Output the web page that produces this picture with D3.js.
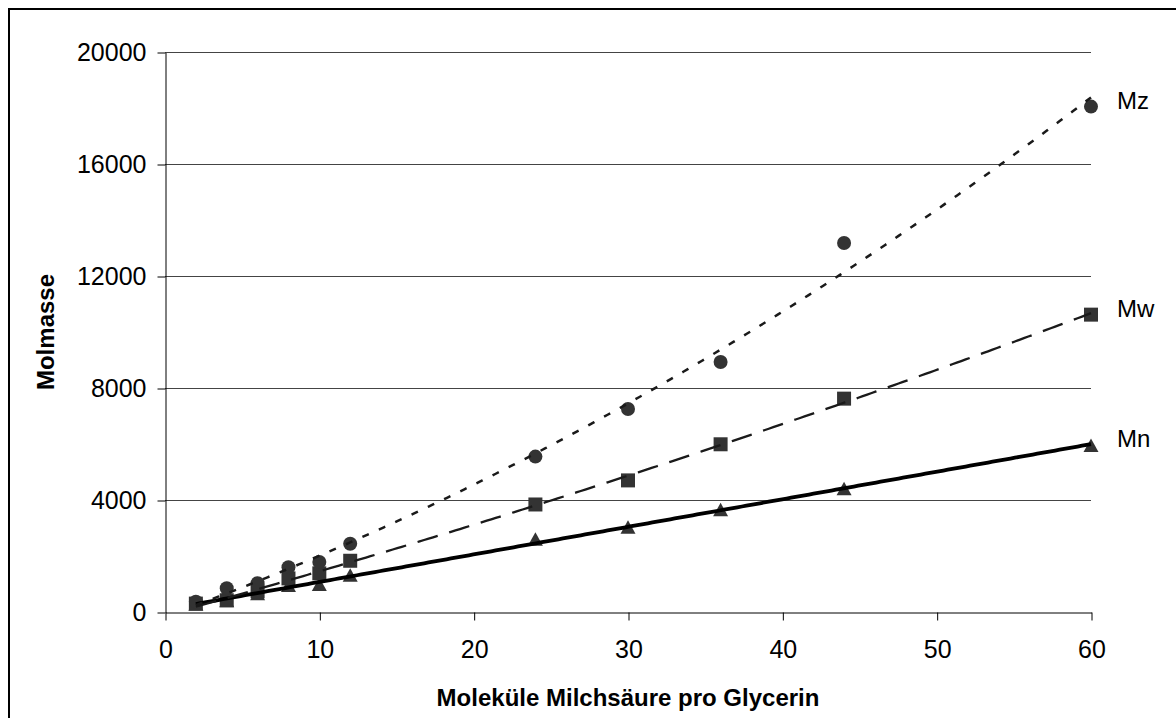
<!DOCTYPE html>
<html>
<head>
<meta charset="utf-8">
<script src="https://cdn.jsdelivr.net/npm/d3@7"></script>
<style>
  body { margin: 0; background: #fff; }
  svg { display: block; }
  text { font-family: "Liberation Sans", Arial, sans-serif; fill: #000; }
</style>
</head>
<body>
<svg id="chart" width="1176" height="718"></svg>
<script>
// Lactic acid molecules per glycerin
const lacticPerGlycerin = [2, 4, 6, 8, 10, 12, 24, 30, 36, 44, 60];
// Molar mass averages
const mnValues = [280, 400, 650, 950, 980, 1310, 2600, 3030, 3650, 4400, 5950];
const mwValues = [300, 420, 740, 1200, 1380, 1830, 3840, 4700, 5990, 7620, 10620];
const mzValues = [370, 850, 1030, 1600, 1790, 2440, 5550, 7250, 8930, 13180, 18050];
const seriesNames = ["Mn", "Mw", "Mz"];
const xTickValues = [0, 10, 20, 30, 40, 50, 60];
const yTickValues = [0, 4000, 8000, 12000, 16000, 20000];
const xTitle = "Moleküle Milchsäure pro Glycerin";
const yTitle = "Molmasse";

const svg = d3.select("#chart");
const plot = { left: 165, right: 1091, top: 52, bottom: 612 };

const x = d3.scaleLinear().domain([0, 60]).range([plot.left, plot.right]);
const y = d3.scaleLinear().domain([0, 20000]).range([plot.bottom, plot.top]);

// Outer frame
svg.append("rect")
  .attr("x", 9).attr("y", 9)
  .attr("width", 1190).attr("height", 730)
  .attr("fill", "none").attr("stroke", "#000").attr("stroke-width", 2);

// Horizontal gridlines
svg.append("g").selectAll("line")
  .data(yTickValues.filter(v => v > 0))
  .join("line")
  .attr("x1", plot.left).attr("x2", plot.right)
  .attr("y1", d => Math.round(y(d)) + 0.5).attr("y2", d => Math.round(y(d)) + 0.5)
  .attr("stroke", "#444").attr("stroke-width", 1);

// Axes
const yAxis = svg.append("g")
  .attr("transform", `translate(${plot.left + 0.5},0.5)`)
  .call(d3.axisLeft(y).tickValues(yTickValues).tickFormat(d3.format("d"))
    .tickSize(8).tickSizeOuter(0).tickPadding(11));
const xAxis = svg.append("g")
  .attr("transform", `translate(0.5,${plot.bottom + 0.5})`)
  .call(d3.axisBottom(x).tickValues(xTickValues).tickFormat(d3.format("d"))
    .tickSize(8).tickSizeOuter(0).tickPadding(20));
[yAxis, xAxis].forEach(g => {
  g.attr("font-family", null).attr("font-size", null);
  g.selectAll("path, line").attr("stroke", "#000").attr("stroke-width", 1);
  g.selectAll("text").style("font-size", "25px");
});

// Axis titles
svg.append("text")
  .attr("x", (plot.left + plot.right) / 2).attr("y", 706)
  .attr("text-anchor", "middle")
  .style("font-size", "24px").style("font-weight", "bold")
  .text(xTitle);
svg.append("text")
  .attr("transform", `translate(54,${(plot.top + plot.bottom) / 2}) rotate(-90)`)
  .attr("text-anchor", "middle")
  .style("font-size", "24px").style("font-weight", "bold")
  .text(yTitle);

// Least-squares polynomial fit (degree 1 or 2)
function polyFit(xs, ys, degree) {
  const n = degree + 1;
  const A = Array.from({ length: n }, () => new Array(n + 1).fill(0));
  xs.forEach((xv, k) => {
    for (let i = 0; i < n; i++) {
      for (let j = 0; j < n; j++) A[i][j] += Math.pow(xv, i + j);
      A[i][n] += ys[k] * Math.pow(xv, i);
    }
  });
  for (let c = 0; c < n; c++) {
    let p = c;
    for (let r = c + 1; r < n; r++) if (Math.abs(A[r][c]) > Math.abs(A[p][c])) p = r;
    [A[c], A[p]] = [A[p], A[c]];
    for (let r = 0; r < n; r++) {
      if (r === c) continue;
      const f = A[r][c] / A[c][c];
      for (let k = c; k <= n; k++) A[r][k] -= f * A[c][k];
    }
  }
  const coef = A.map((row, i) => row[n] / row[i]);
  return xv => coef.reduce((s, cf, i) => s + cf * Math.pow(xv, i), 0);
}

const series = [
  { name: seriesNames[0], values: mnValues, degree: 1, marker: "triangle",
    stroke: "#000", width: 3.8, dash: null },
  { name: seriesNames[1], values: mwValues, degree: 2, marker: "square",
    stroke: "#1a1a1a", width: 2.3, dash: "21,12" },
  { name: seriesNames[2], values: mzValues, degree: 2, marker: "circle",
    stroke: "#1a1a1a", width: 2.5, dash: "7,11" }
];

const markerPath = {
  circle: d3.symbol().type(d3.symbolCircle).size(Math.PI * 7 * 7)(),
  square: "M-7,-7H7V7H-7Z",
  triangle: "M0,-7L7.5,6.5L-7.5,6.5Z"
};

// Markers
series.forEach(s => {
  svg.append("g").selectAll("path")
    .data(lacticPerGlycerin.map((xv, i) => [xv, s.values[i]]))
    .join("path")
    .attr("transform", d => `translate(${x(d[0])},${y(d[1])})`)
    .attr("d", markerPath[s.marker])
    .attr("fill", "#333");
});

// Trend lines
const line = d3.line().x(d => x(d[0])).y(d => y(d[1]));
series.forEach(s => {
  const fit = polyFit(lacticPerGlycerin, s.values, s.degree);
  const x0 = d3.min(lacticPerGlycerin), x1 = d3.max(lacticPerGlycerin);
  const pts = d3.range(0, 201).map(i => {
    const xv = x0 + (x1 - x0) * i / 200;
    return [xv, fit(xv)];
  });
  svg.append("path")
    .attr("d", line(pts))
    .attr("fill", "none")
    .attr("stroke", s.stroke)
    .attr("stroke-width", s.width)
    .attr("stroke-dasharray", s.dash);
});

// Series labels next to the last point
series.forEach(s => {
  const last = s.values[s.values.length - 1];
  svg.append("text")
    .attr("x", x(d3.max(lacticPerGlycerin)) + 26)
    .attr("y", y(last) + 2)
    .style("font-size", "24px")
    .text(s.name);
});
</script>
</body>
</html>
